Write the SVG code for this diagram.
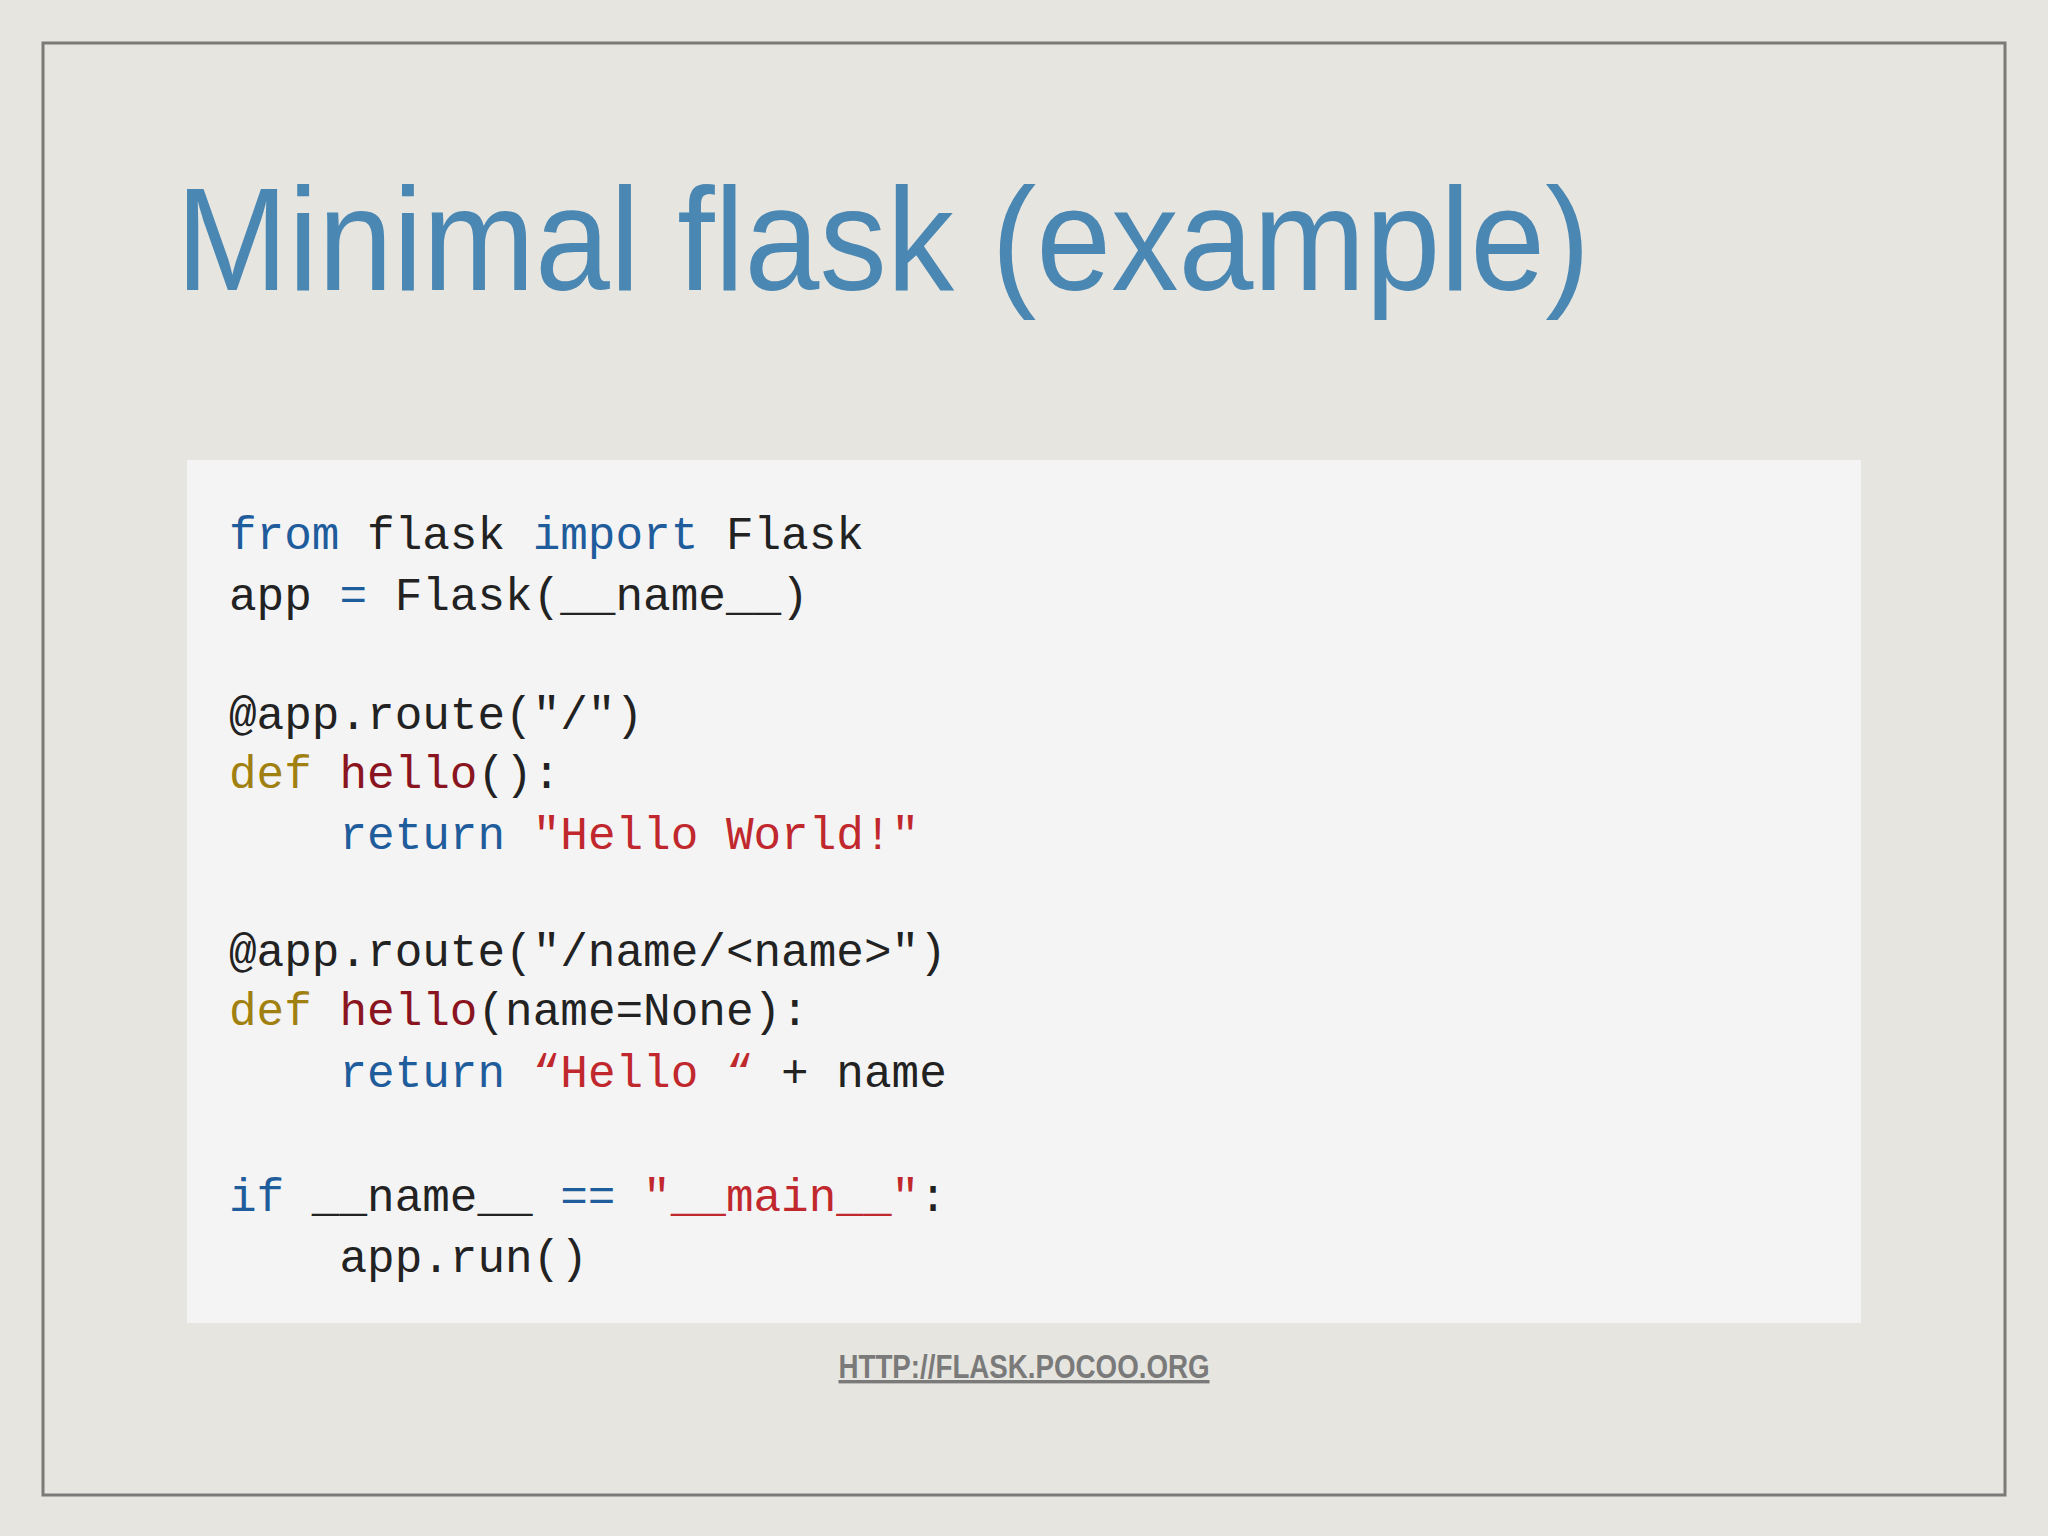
<svg xmlns="http://www.w3.org/2000/svg" width="2048" height="1536" viewBox="0 0 2048 1536">
<style>
.c{font-family:"Liberation Mono","DejaVu Sans Mono",monospace;font-size:46px;fill:#222;white-space:pre}
.k{fill:#1f5c9c}.d{fill:#a08010}.f{fill:#8a1520}.s{fill:#c0282d}
</style>
<rect width="2048" height="1536" fill="#e6e5e0"/>
<rect x="43" y="43" width="1962" height="1452" fill="none" stroke="#7a7a78" stroke-width="3"/>
<text x="176" y="290" font-family="Liberation Sans, Arial, sans-serif" font-size="146" fill="#4b87b3" textLength="1414" lengthAdjust="spacingAndGlyphs">Minimal flask (example)</text>
<g id="code">
<rect x="187" y="460" width="1674" height="863" fill="#f4f4f5"/>
<text class="c" xml:space="preserve" x="229" y="549"><tspan class="k">from</tspan> flask <tspan class="k">import</tspan> Flask</text>
<text class="c" xml:space="preserve" x="229" y="610">app <tspan class="k">=</tspan> Flask(__name__)</text>
<text class="c" xml:space="preserve" x="229" y="729">@app.route("/")</text>
<text class="c" xml:space="preserve" x="229" y="788"><tspan class="d">def</tspan> <tspan class="f">hello</tspan>():</text>
<text class="c" xml:space="preserve" x="229" y="849">    <tspan class="k">return</tspan> <tspan class="s">"Hello World!"</tspan></text>
<text class="c" xml:space="preserve" x="229" y="966">@app.route("/name/&lt;name&gt;")</text>
<text class="c" xml:space="preserve" x="229" y="1025"><tspan class="d">def</tspan> <tspan class="f">hello</tspan>(name=None):</text>
<text class="c" xml:space="preserve" x="229" y="1087">    <tspan class="k">return</tspan> <tspan class="s">“Hello “</tspan> + name</text>
<text class="c" xml:space="preserve" x="229" y="1211"><tspan class="k">if</tspan> __name__ <tspan class="k">==</tspan> <tspan class="s">"__main__"</tspan>:</text>
<text class="c" xml:space="preserve" x="229" y="1272">    app.run()</text>
</g>
<text x="1024" y="1378" text-anchor="middle" font-family="Liberation Sans, Arial, sans-serif" font-weight="bold" font-size="34" fill="#7a7a7a" text-decoration="underline" textLength="371" lengthAdjust="spacingAndGlyphs">HTTP://FLASK.POCOO.ORG</text>
</svg>
